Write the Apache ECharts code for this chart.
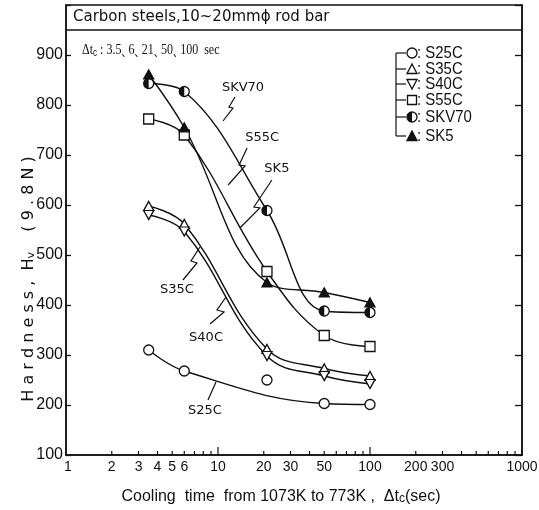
<!DOCTYPE html>
<html>
<head>
<meta charset="utf-8">
<script src="https://cdn.jsdelivr.net/npm/echarts@6/dist/echarts.min.js"></script>
<style>
html, body { margin: 0; padding: 0; background: #fff; }
#chart { width: 539px; height: 510px; }
</style>
</head>
<body>
<div id="chart"></div>
<script>
// Cooling times Δtc (sec) at which the bars were measured
const coolingTimes = [3.5, 6, 21, 50, 100];

// Vickers hardness Hv (9.8 N) for each steel grade
const hvS25C  = [310, 268, 250, 203, 201];
const hvS35C  = [598, 562, 312, 273, 258];
const hvS40C  = [580, 547, 298, 258, 242];
const hvS55C  = [772, 740, 467, 339, 317];
const hvSKV70 = [843, 827, 589, 388, 385];
const hvSK5   = [861, 755, 445, 425, 405];

// The S25C fitted curve runs past its scattered 21 s reading
const s25cOffCurveTimes = [21];

// Log-axis tick marks and labels
const xMinorTicks = [2, 3, 4, 5, 6, 7, 8, 9, 20, 30, 40, 50, 60, 70, 80, 90,
                     200, 300, 400, 500, 600, 700, 800, 900];
const xMajorTicks = [10, 100];
const xTickLabels = [1, 2, 3, 4, 5, 6, 10, 20, 30, 50, 100, 200, 300, 1000];

const grades = [
  { name: 'S25C',  hv: hvS25C,  mark: 'circle', skip: s25cOffCurveTimes },
  { name: 'S35C',  hv: hvS35C,  mark: 'triUp' },
  { name: 'S40C',  hv: hvS40C,  mark: 'triDown' },
  { name: 'S55C',  hv: hvS55C,  mark: 'square' },
  { name: 'SKV70', hv: hvSKV70, mark: 'half' },
  { name: 'SK5',   hv: hvSK5,   mark: 'triFilled' }
];

const INK = '#111';
const pts = hv => coolingTimes.map((t, i) => [t, hv[i]]);

const symbolFor = {
  circle:    { symbol: 'circle',   symbolSize: 10, symbolRotate: 0,   fill: '#fff' },
  triUp:     { symbol: 'triangle', symbolSize: [10, 9], symbolRotate: 0,   fill: '#fff' },
  triDown:   { symbol: 'triangle', symbolSize: [10, 9], symbolRotate: 180, fill: '#fff' },
  square:    { symbol: 'rect',     symbolSize: 10, symbolRotate: 0,   fill: '#fff' },
  triFilled: { symbol: 'triangle', symbolSize: [10, 9], symbolRotate: 0,   fill: INK }
};

const series = [];
grades.forEach(g => {
  const skip = g.skip || [];
  series.push({
    type: 'line', name: g.name + ' curve',
    data: pts(g.hv).filter(d => !skip.includes(d[0])),
    smooth: 0.4, showSymbol: false, silent: true, z: 2,
    lineStyle: { color: INK, width: 1.4 }
  });
});
grades.forEach(g => {
  if (g.mark === 'half') {
    series.push({
      type: 'custom', name: g.name, data: pts(g.hv), z: 4,
      encode: { x: 0, y: 1 },
      renderItem: (params, api) => {
        const p = api.coord([api.value(0), api.value(1)]);
        return { type: 'group', children: [
          { type: 'circle', shape: { cx: p[0], cy: p[1], r: 5 },
            style: { fill: '#fff', stroke: INK, lineWidth: 1.3 } },
          { type: 'sector', shape: { cx: p[0], cy: p[1], r0: 0, r: 5,
              startAngle: Math.PI / 2, endAngle: Math.PI * 1.5, clockwise: true },
            style: { fill: INK } }
        ]};
      }
    });
  } else {
    const s = symbolFor[g.mark];
    series.push({
      type: 'scatter', name: g.name, data: pts(g.hv), z: 4,
      symbol: s.symbol, symbolSize: s.symbolSize, symbolRotate: s.symbolRotate,
      itemStyle: { color: s.fill, borderColor: INK, borderWidth: 1.3, opacity: 1 }
    });
  }
});

// Tick marks along the log axis
series.push({
  type: 'custom', name: 'x ticks', silent: true, clip: false, z: 5,
  encode: { x: 0, y: 1 },
  data: xMinorTicks.map(v => [v, 100, 0]).concat(xMajorTicks.map(v => [v, 100, 1])),
  renderItem: (params, api) => {
    const p = api.coord([api.value(0), api.value(1)]);
    const len = api.value(2) ? 8 : 4;
    return { type: 'line', shape: { x1: p[0], y1: p[1], x2: p[0], y2: p[1] - len },
             style: { stroke: INK, lineWidth: 1.2 } };
  }
});
// Tick labels along the log axis
series.push({
  type: 'custom', name: 'x labels', silent: true, clip: false, z: 5,
  encode: { x: 0, y: 1 },
  data: xTickLabels.map(v => [v, 100]),
  renderItem: (params, api) => {
    const v = api.value(0);
    const p = api.coord([v, api.value(1)]);
    return { type: 'text', x: p[0] + (v === 1 ? 2 : 0), y: p[1] + 12,
             style: { text: String(v), align: 'center', verticalAlign: 'middle',
                      font: '14px "Liberation Sans"', fill: INK } };
  }
});

const option = {
  backgroundColor: '#fff',
  animation: false,
  grid: { left: 66, right: 17, top: 5, bottom: 55, show: true,
          borderColor: INK, borderWidth: 1.5, backgroundColor: 'transparent' },
  xAxis: {
    type: 'log', logBase: 10, min: 1, max: 1000,
    axisLine: { lineStyle: { color: INK, width: 1.5 } },
    axisTick: { show: false }, axisLabel: { show: false }, splitLine: { show: false }
  },
  yAxis: [{
    type: 'value', min: 100, max: 1000, interval: 100, position: 'left',
    axisLine: { show: true, lineStyle: { color: INK, width: 1.5 } },
    axisTick: { show: true, inside: true, length: 5, lineStyle: { color: INK, width: 1.3 } },
    axisLabel: { color: INK, fontSize: 16, fontFamily: 'Liberation Sans', margin: 3,
                 formatter: v => (v >= 1000 ? '' : String(v)) },
    splitLine: { show: false }
  }, {
    type: 'value', min: 100, max: 1000, interval: 100, position: 'right',
    axisLine: { show: true, lineStyle: { color: INK, width: 1.5 } },
    axisTick: { show: true, inside: true, length: 7, lineStyle: { color: INK, width: 1.3 } },
    axisLabel: { show: false }, splitLine: { show: false }
  }],
  series: series
};

const chart = echarts.init(document.getElementById('chart'));
chart.setOption(option);

const toPx = (x, y) => chart.convertToPixel({ xAxisIndex: 0, yAxisIndex: 0 }, [x, y]);

// Legend glyphs drawn with plain shapes
function glyph(kind, cx, cy) {
  const r = 5;
  const stroke = { stroke: INK, lineWidth: 1.3 };
  if (kind === 'circle') return [{ type: 'circle', shape: { cx, cy, r }, style: Object.assign({ fill: '#fff' }, stroke) }];
  if (kind === 'square') return [{ type: 'rect', shape: { x: cx - 4.5, y: cy - 4.5, width: 9, height: 9 }, style: Object.assign({ fill: '#fff' }, stroke) }];
  if (kind === 'triUp' || kind === 'triFilled')
    return [{ type: 'polygon', shape: { points: [[cx, cy - 5], [cx + 5, cy + 4.5], [cx - 5, cy + 4.5]] },
              style: Object.assign({ fill: kind === 'triFilled' ? INK : '#fff' }, stroke) }];
  if (kind === 'triDown')
    return [{ type: 'polygon', shape: { points: [[cx, cy + 5], [cx + 5, cy - 4.5], [cx - 5, cy - 4.5]] },
              style: Object.assign({ fill: '#fff' }, stroke) }];
  return [
    { type: 'circle', shape: { cx, cy, r }, style: Object.assign({ fill: '#fff' }, stroke) },
    { type: 'sector', shape: { cx, cy, r0: 0, r, startAngle: Math.PI / 2, endAngle: Math.PI * 1.5, clockwise: true }, style: { fill: INK } }
  ];
}

const graphics = [];

// Title band across the top of the frame
const bandL = toPx(1, 950), bandR = toPx(1000, 950);
graphics.push({ type: 'line', shape: { x1: bandL[0], y1: bandL[1], x2: bandR[0], y2: bandR[1] },
                style: { stroke: INK, lineWidth: 1.5 }, z: 10 });
graphics.push({ type: 'text', x: 73, y: 17, z: 10,
  style: { text: 'Carbon steels,10~20mmϕ rod bar', font: '15px "DejaVu Sans"', fill: INK,
           verticalAlign: 'middle', align: 'left' } });

// Cooling-time caption
graphics.push({ type: 'text', x: 82, y: 49, z: 10, scaleX: 0.8,
  style: {
    text: '{a|Δt}{s|c}{a| : 3.5}{p|、}{a|6}{p|、}{a|21}{p|、}{a|50}{p|、}{a|100  sec}',
    verticalAlign: 'middle', align: 'left',
    rich: {
      a: { font: '15px "Liberation Serif"', fill: INK, lineHeight: 18, verticalAlign: 'bottom' },
      s: { font: '10px "Liberation Sans"', fill: INK, lineHeight: 13, verticalAlign: 'bottom' },
      p: { font: '12px "Noto Sans CJK JP"', fill: INK, lineHeight: 16, width: 9, verticalAlign: 'bottom' }
    }
  } });

// Legend with bracket
const legendRowsY = [53, 69, 84, 100, 117, 136];
const bracketX = 396;
graphics.push({ type: 'line', shape: { x1: bracketX, y1: legendRowsY[0], x2: bracketX, y2: legendRowsY[5] },
                style: { stroke: INK, lineWidth: 1.2 }, z: 10 });
grades.forEach((g, i) => {
  const y = legendRowsY[i];
  graphics.push({ type: 'line', shape: { x1: bracketX, y1: y, x2: 406, y2: y },
                  style: { stroke: INK, lineWidth: 1.2 }, z: 10 });
  glyph(g.mark, 412, y).forEach(el => { el.z = 11; graphics.push(el); });
  graphics.push({ type: 'text', x: 417, y: y, z: 11, scaleX: 0.88,
    style: { text: ': ' + g.name, font: '17px "Liberation Sans"', fill: INK,
             verticalAlign: 'middle', align: 'left' } });
});

// Axis titles
graphics.push({ type: 'text', x: 27, y: 279, rotation: Math.PI / 2, z: 10,
  style: {
    text: '{a|H a r d n e s s ,  H}{s|v}{a|    ( 9 . 8 N )}',
    align: 'center', verticalAlign: 'middle',
    rich: {
      a: { font: '16px "DejaVu Sans"', fill: INK, lineHeight: 19, verticalAlign: 'bottom' },
      s: { font: '11px "DejaVu Sans"', fill: INK, lineHeight: 15, verticalAlign: 'bottom' }
    }
  } });
graphics.push({ type: 'text', x: 281, y: 495, z: 10,
  style: {
    text: '{a|Cooling  time  from 1073K to 773K ,  Δt}{s|c}{a|(sec)}',
    align: 'center', verticalAlign: 'middle',
    rich: {
      a: { font: '16px "Liberation Sans"', fill: INK, lineHeight: 19, verticalAlign: 'bottom' },
      s: { font: '12px "Liberation Sans"', fill: INK, lineHeight: 15, verticalAlign: 'bottom' }
    }
  } });

// Curve labels with zig-zag leaders (anchor in data units, leader offsets in px)
const curveLabels = [
  { text: 'SKV70', at: [14.6, 834], leader: [[-8, 9], [-14, 19], [-10, 20], [-20, 33]] },
  { text: 'S55C',  at: [19.5, 734], leader: [[-15, 10], [-23, 27], [-17, 28], [-34, 47]] },
  { text: 'SK5',   at: [24.4, 672], leader: [[-5, 11], [-23, 38], [-17, 39], [-37, 59]] },
  { text: 'S35C',  at: [5.37, 430], leader: [[23, -43], [14, -29], [20, -27], [6, -10]] },
  { text: 'S40C',  at: [8.34, 334], leader: [[20, -41], [11, -28], [18, -26], [4, -14]] },
  { text: 'S25C',  at: [8.21, 188], leader: [[11, -29], [3, -11]] }
];
curveLabels.forEach(c => {
  const p = toPx(c.at[0], c.at[1]);
  graphics.push({ type: 'text', x: p[0], y: p[1], z: 10,
    style: { text: c.text, font: '13px "DejaVu Sans"', fill: INK, align: 'center', verticalAlign: 'middle' } });
  graphics.push({ type: 'polyline', z: 10,
    shape: { points: c.leader.map(o => [p[0] + o[0], p[1] + o[1]]) },
    style: { stroke: INK, lineWidth: 1.2, fill: null } });
});

chart.setOption({ graphic: graphics });
</script>
</body>
</html>
